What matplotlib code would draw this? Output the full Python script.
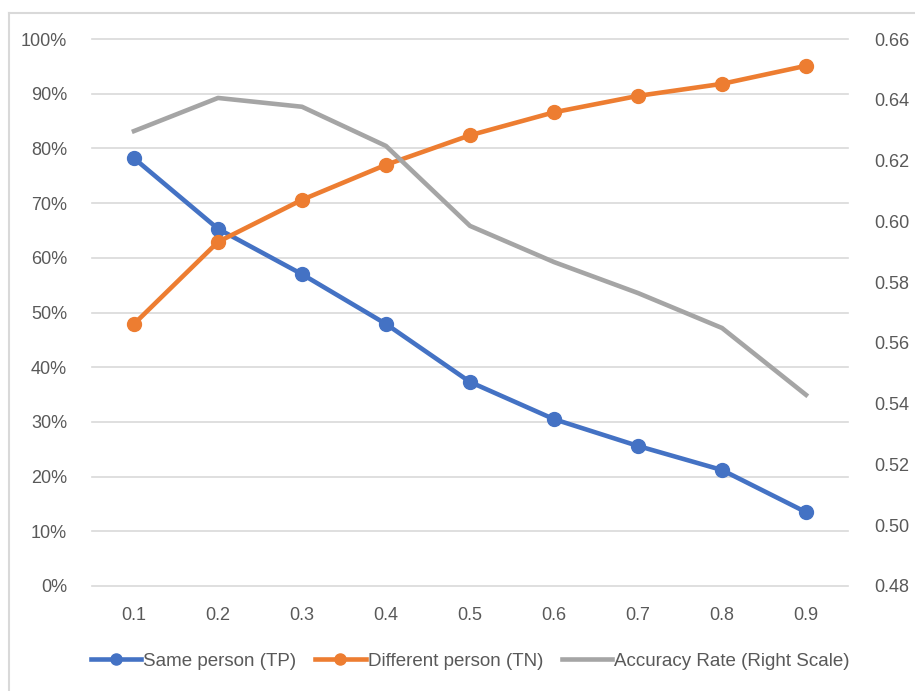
import matplotlib.pyplot as plt
from matplotlib.lines import Line2D
from matplotlib.ticker import PercentFormatter

plt.rcParams['font.family'] = ['Liberation Sans', 'DejaVu Sans']

thresholds = ["0.1", "0.2", "0.3", "0.4", "0.5", "0.6", "0.7", "0.8", "0.9"]
same_person = [0.782, 0.653, 0.570, 0.479, 0.373, 0.305, 0.256, 0.212, 0.135]
diff_person = [0.479, 0.629, 0.706, 0.770, 0.824, 0.866, 0.896, 0.918, 0.951]
accuracy = [0.6297, 0.6406, 0.6377, 0.6248, 0.5985, 0.5866, 0.5764, 0.5649, 0.5429]

blue = '#4472C4'
orange = '#ED7D31'
gray = '#A5A5A5'
txt = '#595959'

fig = plt.figure(figsize=(9.15, 6.91), dpi=100)
ax = fig.add_axes([92 / 915, 1 - 586 / 691, (848 - 92) / 915, (586 - 39) / 691])
ax2 = ax.twinx()

x = list(range(1, len(thresholds) + 1))
ax.plot(x, same_person, color=blue, lw=3.3, marker='o', ms=10, label='Same person (TP)')
ax.plot(x, diff_person, color=orange, lw=3.3, marker='o', ms=10, label='Different person (TN)')
ax2.plot(x, accuracy, color=gray, lw=3.3, label='Accuracy Rate (Right Scale)')

ax.set_xlim(0.5, 9.5)
ax.set_ylim(0, 1)
ax.set_yticks([i / 10 for i in range(11)])
ax.yaxis.set_major_formatter(PercentFormatter(1.0, decimals=0))
ax2.set_ylim(0.48, 0.66)
ax2.set_yticks([0.48, 0.50, 0.52, 0.54, 0.56, 0.58, 0.60, 0.62, 0.64, 0.66])
ax2.set_yticklabels(['%.2f' % v for v in ax2.get_yticks()])
ax.set_xticks(x)
ax.set_xticklabels(thresholds)

ax.grid(axis='y', color='#D9D9D9', lw=1.2)
for gl in ax.get_ygridlines():
    gl.set_clip_on(False)
ax.set_axisbelow(True)
for a in (ax, ax2):
    for s in a.spines.values():
        s.set_visible(False)
    a.tick_params(length=0, labelsize=13, colors=txt)
ax.tick_params(axis='y', pad=18)
ax.tick_params(axis='x', pad=15)
ax2.tick_params(axis='y', pad=19)

handles = [
    Line2D([], [], color=blue, lw=3.3, marker='o', ms=8),
    Line2D([], [], color=orange, lw=3.3, marker='o', ms=8),
    Line2D([], [], color=gray, lw=3.3),
]
labels = ['Same person (TP)', 'Different person (TN)', 'Accuracy Rate (Right Scale)']
fig.legend(handles, labels, loc='center', bbox_to_anchor=(0.514, 1 - 661 / 691), ncol=3,
           frameon=False, fontsize=13.5, labelcolor=txt, handlelength=2.7,
           handletextpad=0.1, columnspacing=1.0)

# chart border (cropped on right/bottom)
fig.add_artist(Line2D([9 / 915, 9 / 915], [0, 1 - 13 / 691], color='#D9D9D9', lw=1.5))
fig.add_artist(Line2D([9 / 915, 1], [1 - 13 / 691, 1 - 13 / 691], color='#D9D9D9', lw=1.5))

fig.savefig('out.png', dpi=100)
